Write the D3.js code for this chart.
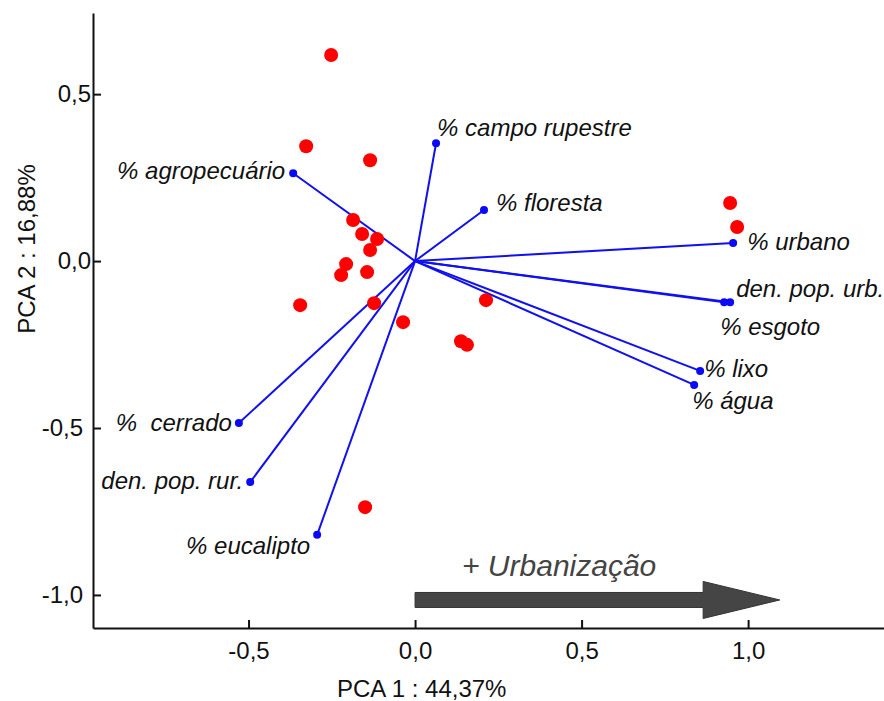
<!DOCTYPE html>
<html>
<head>
<meta charset="utf-8">
<script src="https://cdn.jsdelivr.net/npm/d3@7"></script>
<style>
  body { margin: 0; background: #fff; }
  svg { display: block; font-family: "Liberation Sans", Arial, sans-serif; }
  .axis path, .axis line { stroke: #111; stroke-width: 2; }
  .axis text { font-size: 24px; fill: #111; }
  .vector { stroke: #1010f0; stroke-width: 2; }
  .vlabel { font-size: 24px; font-style: italic; fill: #111; }
</style>
</head>
<body>
<svg id="chart" width="884" height="701"></svg>
<script>
// site scores (red points)
const siteX = [-0.252, -0.327, -0.135, 0.946, 0.967, -0.186, -0.159, -0.114, -0.135, -0.207,
  -0.222, -0.144, -0.345, -0.123, -0.036, 0.213, 0.138, 0.156, -0.150];
const siteY = [0.617, 0.344, 0.302, 0.174, 0.102, 0.123, 0.081, 0.066, 0.033, -0.009,
  -0.042, -0.033, -0.132, -0.126, -0.183, -0.117, -0.240, -0.251, -0.737];

// variable loadings (blue vectors)
const varNames = ["% campo rupestre", "% floresta", "% agropecuário", "% urbano", "den. pop. urb.",
  "% esgoto", "% lixo", "% água", "%  cerrado", "den. pop. rur.", "% eucalipto"];
const varX = [0.063, 0.207, -0.366, 0.955, 0.946, 0.928, 0.856, 0.838, -0.529, -0.495, -0.294];
const varY = [0.353, 0.153, 0.263, 0.054, -0.123, -0.123, -0.329, -0.371, -0.485, -0.662, -0.820];

const xTicks = [-0.5, 0, 0.5, 1];
const yTicks = [-1, -0.5, 0, 0.5];
const xTitle = "PCA 1 : 44,37%";
const yTitle = "PCA 2 : 16,88%";
const arrowText = "+ Urbanização";
const arrowX = [0, 0.865, 1.095]; // start, head start, tip
const arrowY = -1.015;

// where each label sits relative to its dot
const labelPlace = {
  "% campo rupestre": { dx: 1, dy: -7, anchor: "start" },
  "% floresta": { dx: 12, dy: 1, anchor: "start" },
  "% agropecuário": { dx: -8, dy: 6, anchor: "end" },
  "% urbano": { dx: 14, dy: 7, anchor: "start" },
  "den. pop. urb.": { dx: 6, dy: -5, anchor: "start" },
  "% esgoto": { dx: -4, dy: 33, anchor: "start" },
  "% lixo": { dx: 4, dy: 6, anchor: "start" },
  "% água": { dx: -2, dy: 24, anchor: "start" },
  "%  cerrado": { dx: -7, dy: 8, anchor: "end" },
  "den. pop. rur.": { dx: -7, dy: 7, anchor: "end" },
  "% eucalipto": { dx: -7, dy: 19, anchor: "end" },
};

const svg = d3.select("#chart");
const margin = { top: 13, right: 0, bottom: 73, left: 93 };
const width = 884, height = 701;

const x = d3.scaleLinear().domain([-0.967, 1.408]).range([margin.left, width - margin.right]);
const y = d3.scaleLinear().domain([-1.099, 0.743]).range([height - margin.bottom, margin.top]);

const locale = d3.formatLocale({ decimal: ",", thousands: ".", grouping: [3], minus: "-" });
const fmt = locale.format(".1f");

svg.append("g")
  .attr("class", "axis")
  .attr("transform", `translate(0,${y.range()[0]})`)
  .call(d3.axisBottom(x).tickValues(xTicks).tickFormat(fmt).tickSizeInner(-8).tickSizeOuter(0).tickPadding(14));

const yAxis = svg.append("g")
  .attr("class", "axis")
  .attr("transform", `translate(${x.range()[0]},0)`)
  .call(d3.axisLeft(y).tickValues(yTicks).tickFormat(fmt).tickSizeInner(-8).tickSizeOuter(0).tickPadding(1));

yAxis.selectAll(".tick text")
  .attr("x", (d) => (d < 0 ? -10 : -2));

svg.append("text")
  .attr("x", 337)
  .attr("y", 697)
  .attr("font-size", 24)
  .attr("fill", "#111")
  .text(xTitle);

svg.append("text")
  .attr("transform", `translate(35,249) rotate(-90)`)
  .attr("text-anchor", "middle")
  .attr("font-size", 24)
  .attr("fill", "#111")
  .text(yTitle);

// urbanization arrow
const ay = y(arrowY);
const arrowPath = d3.path();
arrowPath.moveTo(x(arrowX[0]), ay - 7.5);
arrowPath.lineTo(x(arrowX[1]), ay - 7.5);
arrowPath.lineTo(x(arrowX[1]), ay - 18.5);
arrowPath.lineTo(x(arrowX[2]), ay);
arrowPath.lineTo(x(arrowX[1]), ay + 18.5);
arrowPath.lineTo(x(arrowX[1]), ay + 7.5);
arrowPath.lineTo(x(arrowX[0]), ay + 7.5);
arrowPath.closePath();

svg.append("path")
  .attr("d", arrowPath.toString())
  .attr("fill", "#454545")
  .attr("stroke", "#333")
  .attr("stroke-width", 1);

svg.append("text")
  .attr("x", 462)
  .attr("y", 576)
  .attr("font-size", 30)
  .attr("font-style", "italic")
  .attr("fill", "#444")
  .text(arrowText);

// vectors
const vars = varNames.map((name, i) => ({ name, x: varX[i], y: varY[i] }));

svg.append("g")
  .selectAll("line")
  .data(vars)
  .join("line")
  .attr("class", "vector")
  .attr("x1", x(0))
  .attr("y1", y(0))
  .attr("x2", (d) => x(d.x))
  .attr("y2", (d) => y(d.y));

// sites
svg.append("g")
  .selectAll("circle")
  .data(siteX.map((v, i) => ({ x: v, y: siteY[i] })))
  .join("circle")
  .attr("cx", (d) => x(d.x))
  .attr("cy", (d) => y(d.y))
  .attr("r", 7)
  .attr("fill", "#ff0000");

svg.append("g")
  .selectAll("circle")
  .data(vars)
  .join("circle")
  .attr("cx", (d) => x(d.x))
  .attr("cy", (d) => y(d.y))
  .attr("r", 4)
  .attr("fill", "#0a0af5");

svg.append("g")
  .selectAll("text")
  .data(vars)
  .join("text")
  .attr("class", "vlabel")
  .attr("x", (d) => x(d.x) + labelPlace[d.name].dx)
  .attr("y", (d) => y(d.y) + labelPlace[d.name].dy)
  .attr("text-anchor", (d) => labelPlace[d.name].anchor)
  .style("white-space", "pre")
  .text((d) => d.name);
</script>
</body>
</html>
